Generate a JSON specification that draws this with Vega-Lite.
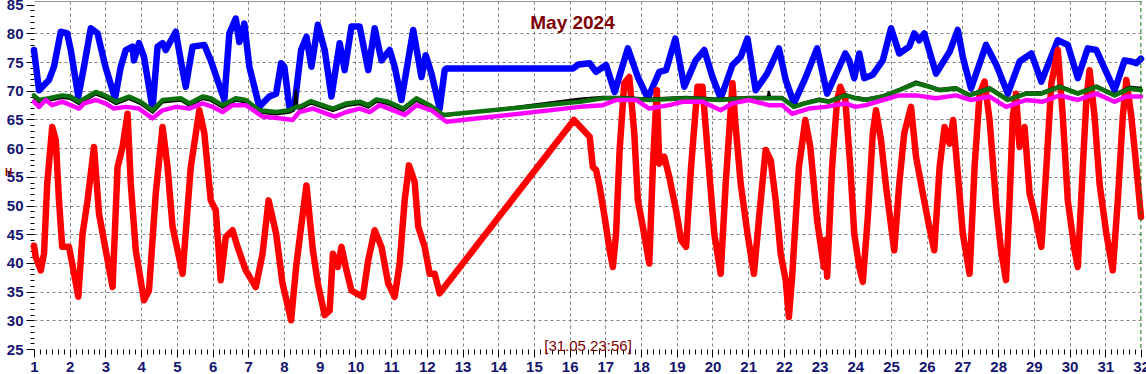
{
  "$schema": "https://vega.github.io/schema/vega-lite/v6.json",
  "width": 1107,
  "height": 348,
  "autosize": {"type": "none"},
  "padding": {"left": 34, "top": 1, "right": 5, "bottom": 25},
  "background": "white",
  "title": {"text": "May 2024", "anchor": "middle", "frame": "group", "orient": "top", "offset": -27, "baseline": "alphabetic", "dx": -15, "dy": 23, "font": "Liberation Sans", "fontSize": 19, "fontWeight": "bold", "color": "#800000"},
  "config": {
    "view": {"stroke": null},
    "axis": {"labelFont": "Liberation Sans", "labelFontWeight": "bold", "labelFontSize": 15, "labelColor": "#141470", "tickColor": "#000000", "domain": false, "gridColor": "#808080", "gridDash": [3, 3], "gridWidth": 1, "titleFont": "Liberation Sans"}
  },
  "datasets": {
    "blue": [
      {"d":1.0,"v":77.1},{"d":1.14,"v":70.1},{"d":1.42,"v":71.9},{"d":1.56,"v":74.2},{"d":1.75,"v":80.3},{"d":1.93,"v":80},{"d":2.03,"v":77.1},{"d":2.24,"v":69},{"d":2.4,"v":74.2},{"d":2.59,"v":80.9},{"d":2.78,"v":80},{"d":3.0,"v":74.2},{"d":3.27,"v":68.7},{"d":3.43,"v":74.2},{"d":3.57,"v":77.1},{"d":3.76,"v":77.7},{"d":3.8,"v":75.3},{"d":3.94,"v":78.3},{"d":4.08,"v":75.9},{"d":4.32,"v":66.9},{"d":4.46,"v":77.7},{"d":4.6,"v":78.3},{"d":4.69,"v":77.1},{"d":4.97,"v":80.3},{"d":5.11,"v":75.3},{"d":5.25,"v":70.7},{"d":5.44,"v":77.7},{"d":5.77,"v":78},{"d":5.95,"v":75.3},{"d":6.33,"v":68.4},{"d":6.47,"v":80},{"d":6.65,"v":82.6},{"d":6.75,"v":78.5},{"d":6.89,"v":81.7},{"d":7.03,"v":74.2},{"d":7.31,"v":67.2},{"d":7.59,"v":69},{"d":7.78,"v":69.5},{"d":7.92,"v":74.8},{"d":8.01,"v":74.2},{"d":8.15,"v":67.2},{"d":8.29,"v":67.2},{"d":8.48,"v":77.1},{"d":8.63,"v":79.4},{"d":8.77,"v":74.2},{"d":8.95,"v":81.5},{"d":9.14,"v":77.1},{"d":9.33,"v":69},{"d":9.56,"v":78.3},{"d":9.7,"v":73.6},{"d":9.89,"v":81.2},{"d":10.12,"v":81.2},{"d":10.36,"v":73.6},{"d":10.54,"v":80.9},{"d":10.73,"v":75.3},{"d":10.96,"v":77.1},{"d":11.1,"v":74.2},{"d":11.29,"v":68.4},{"d":11.62,"v":80.6},{"d":11.85,"v":72.4},{"d":11.97,"v":76.2},{"d":12.13,"v":73},{"d":12.36,"v":66.9},{"d":12.5,"v":73.6},{"d":12.55,"v":73.9},{"d":16.1,"v":73.9},{"d":16.25,"v":74.6},{"d":16.56,"v":74.8},{"d":16.74,"v":73.3},{"d":17.02,"v":74.5},{"d":17.26,"v":69.8},{"d":17.63,"v":77.4},{"d":17.91,"v":72.4},{"d":18.19,"v":68.7},{"d":18.51,"v":73.3},{"d":18.7,"v":73.6},{"d":18.96,"v":79.1},{"d":19.21,"v":70.7},{"d":19.53,"v":75.3},{"d":19.77,"v":77.1},{"d":20.0,"v":72.4},{"d":20.23,"v":68.7},{"d":20.56,"v":74.5},{"d":20.79,"v":75.9},{"d":20.98,"v":79.1},{"d":21.21,"v":70.1},{"d":21.53,"v":73},{"d":21.86,"v":77.4},{"d":22.05,"v":71.9},{"d":22.28,"v":67.8},{"d":22.6,"v":72.2},{"d":22.93,"v":77.4},{"d":23.21,"v":69.5},{"d":23.72,"v":76.5},{"d":23.83,"v":75.3},{"d":23.97,"v":72.2},{"d":24.11,"v":76.5},{"d":24.25,"v":72.2},{"d":24.49,"v":72.8},{"d":24.77,"v":75.3},{"d":25.0,"v":80.9},{"d":25.23,"v":76.5},{"d":25.51,"v":77.7},{"d":25.65,"v":80},{"d":25.79,"v":78.8},{"d":25.93,"v":80},{"d":26.26,"v":73},{"d":26.64,"v":76.8},{"d":26.87,"v":80.6},{"d":27.01,"v":75.9},{"d":27.24,"v":70.4},{"d":27.66,"v":78},{"d":27.95,"v":74.5},{"d":28.27,"v":69.5},{"d":28.6,"v":75.1},{"d":28.93,"v":76.5},{"d":29.21,"v":71.6},{"d":29.67,"v":78.8},{"d":29.95,"v":78},{"d":30.23,"v":72.2},{"d":30.51,"v":77.4},{"d":30.75,"v":77.1},{"d":30.98,"v":73.9},{"d":31.26,"v":70.1},{"d":31.54,"v":75.3},{"d":31.73,"v":75.1},{"d":31.87,"v":74.8},{"d":32,"v":75.6}
    ],
    "red": [
      {"d":1.0,"v":43},{"d":1.05,"v":41},{"d":1.19,"v":38.7},{"d":1.28,"v":41.6},{"d":1.37,"v":53.8},{"d":1.51,"v":63.7},{"d":1.61,"v":61.4},{"d":1.7,"v":50.9},{"d":1.79,"v":42.8},{"d":1.98,"v":42.8},{"d":2.07,"v":39.9},{"d":2.24,"v":34.1},{"d":2.36,"v":45.1},{"d":2.5,"v":50.9},{"d":2.68,"v":60.2},{"d":2.82,"v":48.6},{"d":3.06,"v":40.5},{"d":3.2,"v":35.8},{"d":3.34,"v":56.7},{"d":3.48,"v":60.2},{"d":3.62,"v":66},{"d":3.71,"v":53.8},{"d":3.85,"v":42.2},{"d":4.08,"v":33.5},{"d":4.22,"v":35.2},{"d":4.41,"v":52.1},{"d":4.6,"v":63.7},{"d":4.74,"v":56.7},{"d":4.88,"v":46.3},{"d":5.16,"v":38.1},{"d":5.39,"v":56.7},{"d":5.63,"v":66.6},{"d":5.77,"v":62.6},{"d":5.95,"v":50.9},{"d":6.09,"v":49.2},{"d":6.23,"v":37},{"d":6.37,"v":44.5},{"d":6.56,"v":45.7},{"d":6.7,"v":42.8},{"d":6.93,"v":38.7},{"d":7.21,"v":35.8},{"d":7.4,"v":41.6},{"d":7.57,"v":50.9},{"d":7.78,"v":45.1},{"d":7.96,"v":36.4},{"d":8.2,"v":30},{"d":8.34,"v":39.3},{"d":8.48,"v":46.3},{"d":8.63,"v":53.5},{"d":8.81,"v":42.2},{"d":8.95,"v":36.4},{"d":9.14,"v":30.9},{"d":9.28,"v":31.7},{"d":9.37,"v":41.6},{"d":9.51,"v":39.3},{"d":9.61,"v":42.8},{"d":9.75,"v":38.7},{"d":9.89,"v":35.2},{"d":10.03,"v":34.7},{"d":10.21,"v":34.1},{"d":10.36,"v":40.5},{"d":10.54,"v":45.7},{"d":10.73,"v":42.8},{"d":10.92,"v":36.4},{"d":11.1,"v":34.1},{"d":11.24,"v":39.9},{"d":11.38,"v":50.9},{"d":11.5,"v":57},{"d":11.66,"v":54.1},{"d":11.76,"v":46.3},{"d":11.94,"v":42.8},{"d":12.08,"v":38.1},{"d":12.22,"v":38.1},{"d":12.36,"v":34.7},{"d":16.12,"v":64.9},{"d":16.56,"v":62},{"d":16.65,"v":56.7},{"d":16.74,"v":56.2},{"d":16.84,"v":53.3},{"d":16.98,"v":48},{"d":17.12,"v":42.2},{"d":17.21,"v":39.3},{"d":17.3,"v":45.1},{"d":17.4,"v":59.7},{"d":17.53,"v":71.3},{"d":17.67,"v":72.4},{"d":17.81,"v":62.6},{"d":17.91,"v":50.9},{"d":18.05,"v":46.3},{"d":18.23,"v":39.9},{"d":18.33,"v":56.7},{"d":18.44,"v":70.1},{"d":18.51,"v":57.3},{"d":18.65,"v":58.5},{"d":18.79,"v":55},{"d":18.98,"v":49.2},{"d":19.12,"v":44},{"d":19.26,"v":42.8},{"d":19.4,"v":56.7},{"d":19.58,"v":70.7},{"d":19.72,"v":70.7},{"d":19.86,"v":59.7},{"d":20.05,"v":45.1},{"d":20.23,"v":38.1},{"d":20.37,"v":53.8},{"d":20.56,"v":71.3},{"d":20.65,"v":63.7},{"d":20.79,"v":53.8},{"d":20.98,"v":45.1},{"d":21.16,"v":38.1},{"d":21.35,"v":50.9},{"d":21.49,"v":59.7},{"d":21.63,"v":57.9},{"d":21.77,"v":50.9},{"d":21.91,"v":41.6},{"d":22.05,"v":37},{"d":22.14,"v":30.6},{"d":22.23,"v":37.6},{"d":22.42,"v":56.7},{"d":22.6,"v":64.9},{"d":22.74,"v":60.2},{"d":22.93,"v":47.4},{"d":23.12,"v":39.3},{"d":23.16,"v":44},{"d":23.21,"v":37.6},{"d":23.35,"v":56.7},{"d":23.49,"v":68.4},{"d":23.58,"v":70.7},{"d":23.72,"v":68.4},{"d":23.86,"v":56.7},{"d":23.97,"v":45.1},{"d":24.11,"v":39.3},{"d":24.21,"v":36.7},{"d":24.35,"v":48},{"d":24.49,"v":62.6},{"d":24.58,"v":66.6},{"d":24.72,"v":61.4},{"d":24.86,"v":53.3},{"d":25.09,"v":42.2},{"d":25.23,"v":53.8},{"d":25.37,"v":62.6},{"d":25.56,"v":67.2},{"d":25.7,"v":58.5},{"d":25.89,"v":52.1},{"d":26.07,"v":46.3},{"d":26.21,"v":42.2},{"d":26.36,"v":56.7},{"d":26.5,"v":63.7},{"d":26.64,"v":60.8},{"d":26.74,"v":64.9},{"d":26.87,"v":55.6},{"d":27.01,"v":45.1},{"d":27.2,"v":38.1},{"d":27.34,"v":56.7},{"d":27.48,"v":69.5},{"d":27.62,"v":71.6},{"d":27.76,"v":64.9},{"d":27.95,"v":49.8},{"d":28.08,"v":42.2},{"d":28.22,"v":37},{"d":28.32,"v":50.9},{"d":28.41,"v":65.5},{"d":28.5,"v":69.5},{"d":28.6,"v":60.2},{"d":28.74,"v":63.7},{"d":28.88,"v":52.1},{"d":29.02,"v":48.6},{"d":29.21,"v":42.8},{"d":29.35,"v":56.7},{"d":29.49,"v":71.3},{"d":29.67,"v":77.1},{"d":29.81,"v":65.5},{"d":29.95,"v":50.9},{"d":30.14,"v":42.2},{"d":30.23,"v":39.3},{"d":30.37,"v":56.7},{"d":30.47,"v":68.4},{"d":30.56,"v":73.6},{"d":30.7,"v":65.5},{"d":30.84,"v":53.8},{"d":31.03,"v":45.1},{"d":31.21,"v":38.7},{"d":31.35,"v":50.9},{"d":31.49,"v":65.5},{"d":31.59,"v":71.9},{"d":31.73,"v":65.5},{"d":31.87,"v":56.7},{"d":32,"v":48}
    ],
    "green": [
      {"d":1.0,"v":69.2},{"d":1.14,"v":68.4},{"d":1.42,"v":68.7},{"d":1.79,"v":69.2},{"d":2.03,"v":69},{"d":2.26,"v":68.1},{"d":2.73,"v":69.8},{"d":3.06,"v":69},{"d":3.29,"v":68.1},{"d":3.66,"v":69},{"d":3.99,"v":68.1},{"d":4.32,"v":66.6},{"d":4.6,"v":68.4},{"d":5.11,"v":68.7},{"d":5.35,"v":67.8},{"d":5.72,"v":69},{"d":5.95,"v":68.7},{"d":6.28,"v":67.5},{"d":6.65,"v":68.7},{"d":6.93,"v":68.4},{"d":7.31,"v":66.6},{"d":7.78,"v":66.3},{"d":8.15,"v":66.6},{"d":8.34,"v":67.2},{"d":8.44,"v":67.2},{"d":8.75,"v":68.2},{"d":9.37,"v":66.9},{"d":9.75,"v":67.8},{"d":10.12,"v":68.1},{"d":10.36,"v":67.5},{"d":10.59,"v":68.5},{"d":10.92,"v":68.1},{"d":11.34,"v":66.9},{"d":11.71,"v":68.7},{"d":12.08,"v":67.5},{"d":12.46,"v":65.8},{"d":16.29,"v":68.1},{"d":16.93,"v":68.7},{"d":17.4,"v":68.7},{"d":18.23,"v":68.4},{"d":19.26,"v":68.7},{"d":20.19,"v":68.4},{"d":21.02,"v":68.7},{"d":21.95,"v":68.7},{"d":22.28,"v":67.2},{"d":22.6,"v":67.8},{"d":22.98,"v":68.4},{"d":23.26,"v":68.1},{"d":23.72,"v":69.2},{"d":24.0,"v":68.7},{"d":24.3,"v":68.4},{"d":24.77,"v":69},{"d":25.23,"v":70.1},{"d":25.7,"v":71.3},{"d":26.07,"v":70.7},{"d":26.36,"v":70.1},{"d":26.82,"v":70.4},{"d":27.2,"v":69.2},{"d":27.76,"v":70.4},{"d":28.27,"v":68.4},{"d":28.79,"v":69.5},{"d":29.21,"v":69.5},{"d":29.72,"v":70.7},{"d":30.23,"v":69.5},{"d":30.75,"v":70.7},{"d":31.26,"v":69.2},{"d":31.68,"v":70.4},{"d":32,"v":70.1}
    ],
    "black": [
      {"d":1.0,"v":68.8},{"d":1.14,"v":68.0},{"d":1.42,"v":68.3},{"d":1.79,"v":68.8},{"d":2.03,"v":68.6},{"d":2.26,"v":67.7},{"d":2.73,"v":69.4},{"d":3.06,"v":68.6},{"d":3.29,"v":67.7},{"d":3.66,"v":68.6},{"d":3.99,"v":67.7},{"d":4.32,"v":66.2},{"d":4.6,"v":68.0},{"d":5.11,"v":68.3},{"d":5.35,"v":67.4},{"d":5.72,"v":68.6},{"d":5.95,"v":68.3},{"d":6.28,"v":67.1},{"d":6.65,"v":68.3},{"d":6.93,"v":68.0},{"d":7.31,"v":66.2},{"d":7.78,"v":65.9},{"d":8.15,"v":66.2},{"d":8.28,"v":66.6},{"d":8.33,"v":70.0},{"d":8.38,"v":67.0},{"d":8.44,"v":66.8},{"d":8.75,"v":67.8},{"d":9.37,"v":66.5},{"d":9.75,"v":67.4},{"d":10.12,"v":67.7},{"d":10.36,"v":67.1},{"d":10.59,"v":68.1},{"d":10.92,"v":67.7},{"d":11.34,"v":66.5},{"d":11.71,"v":68.3},{"d":12.08,"v":67.1},{"d":12.46,"v":65.6},{"d":16.29,"v":68.6},{"d":16.93,"v":68.9},{"d":17.4,"v":68.9},{"d":18.23,"v":68.6},{"d":19.26,"v":68.9},{"d":20.19,"v":68.6},{"d":21.02,"v":68.9},{"d":21.55,"v":68.9},{"d":21.58,"v":69.8},{"d":21.61,"v":68.9},{"d":21.95,"v":68.9},{"d":22.28,"v":67.4},{"d":22.6,"v":68.0},{"d":22.98,"v":68.6},{"d":23.26,"v":68.3},{"d":23.72,"v":69.4},{"d":24.0,"v":68.9},{"d":24.3,"v":68.6},{"d":24.77,"v":69.2},{"d":25.23,"v":70.3},{"d":25.7,"v":71.6},{"d":26.07,"v":70.9},{"d":26.36,"v":70.3},{"d":26.82,"v":70.6},{"d":27.2,"v":69.4},{"d":27.76,"v":70.6},{"d":28.27,"v":68.6},{"d":28.79,"v":69.7},{"d":29.21,"v":69.7},{"d":29.72,"v":70.9},{"d":30.23,"v":69.7},{"d":30.75,"v":70.9},{"d":31.26,"v":69.4},{"d":31.68,"v":70.7},{"d":32,"v":70.5}
    ],
    "magenta": [
      {"d":1.0,"v":68.1},{"d":1.14,"v":67.2},{"d":1.33,"v":68.4},{"d":1.51,"v":67.5},{"d":1.79,"v":68.1},{"d":2.26,"v":66.9},{"d":2.4,"v":67.8},{"d":2.73,"v":68.4},{"d":3.0,"v":67.8},{"d":3.24,"v":66.9},{"d":3.57,"v":67.2},{"d":3.94,"v":66.9},{"d":4.32,"v":65.2},{"d":4.6,"v":66.6},{"d":4.97,"v":67.2},{"d":5.35,"v":66.9},{"d":5.72,"v":67.8},{"d":6.0,"v":67.2},{"d":6.28,"v":66.3},{"d":6.56,"v":67.5},{"d":6.93,"v":67.5},{"d":7.4,"v":65.5},{"d":7.87,"v":65.2},{"d":8.24,"v":64.9},{"d":8.43,"v":66.3},{"d":8.81,"v":66.9},{"d":9.42,"v":65.5},{"d":9.75,"v":66.3},{"d":10.12,"v":66.9},{"d":10.4,"v":66.3},{"d":10.68,"v":67.5},{"d":11.06,"v":66.6},{"d":11.38,"v":65.8},{"d":11.71,"v":67.5},{"d":12.13,"v":66.6},{"d":12.55,"v":64.6},{"d":16.29,"v":67.2},{"d":16.93,"v":67.5},{"d":17.3,"v":68.4},{"d":17.86,"v":68.4},{"d":18.23,"v":66.9},{"d":18.79,"v":67.5},{"d":19.16,"v":68.1},{"d":19.72,"v":68.1},{"d":20.23,"v":66.6},{"d":20.56,"v":67.8},{"d":21.02,"v":68.4},{"d":21.58,"v":67.5},{"d":21.95,"v":67.5},{"d":22.23,"v":66},{"d":22.7,"v":66.9},{"d":23.16,"v":67.2},{"d":23.72,"v":67.8},{"d":24.0,"v":67.2},{"d":24.3,"v":67.5},{"d":24.77,"v":68.4},{"d":25.23,"v":69.2},{"d":25.7,"v":69.2},{"d":26.26,"v":68.7},{"d":26.82,"v":69.2},{"d":27.24,"v":68.4},{"d":27.76,"v":69},{"d":28.22,"v":67.2},{"d":28.79,"v":68.4},{"d":29.25,"v":68.1},{"d":29.72,"v":69.2},{"d":30.23,"v":68.4},{"d":30.75,"v":69.5},{"d":31.26,"v":68.1},{"d":31.59,"v":69},{"d":32,"v":69}
    ],
    "now": [{"d": 31.997}]
  },
  "layer": [
    {
      "encoding": {
        "x": {
          "field": "d", "type": "quantitative",
          "scale": {"domain": [1, 32], "nice": false, "zero": false},
          "axis": {
            "values": [1,1.1667,1.3333,1.5,1.6667,1.8333,2,2.1667,2.3333,2.5,2.6667,2.8333,3,3.1667,3.3333,3.5,3.6667,3.8333,4,4.1667,4.3333,4.5,4.6667,4.8333,5,5.1667,5.3333,5.5,5.6667,5.8333,6,6.1667,6.3333,6.5,6.6667,6.8333,7,7.1667,7.3333,7.5,7.6667,7.8333,8,8.1667,8.3333,8.5,8.6667,8.8333,9,9.1667,9.3333,9.5,9.6667,9.8333,10,10.1667,10.3333,10.5,10.6667,10.8333,11,11.1667,11.3333,11.5,11.6667,11.8333,12,12.1667,12.3333,12.5,12.6667,12.8333,13,13.1667,13.3333,13.5,13.6667,13.8333,14,14.1667,14.3333,14.5,14.6667,14.8333,15,15.1667,15.3333,15.5,15.6667,15.8333,16,16.1667,16.3333,16.5,16.6667,16.8333,17,17.1667,17.3333,17.5,17.6667,17.8333,18,18.1667,18.3333,18.5,18.6667,18.8333,19,19.1667,19.3333,19.5,19.6667,19.8333,20,20.1667,20.3333,20.5,20.6667,20.8333,21,21.1667,21.3333,21.5,21.6667,21.8333,22,22.1667,22.3333,22.5,22.6667,22.8333,23,23.1667,23.3333,23.5,23.6667,23.8333,24,24.1667,24.3333,24.5,24.6667,24.8333,25,25.1667,25.3333,25.5,25.6667,25.8333,26,26.1667,26.3333,26.5,26.6667,26.8333,27,27.1667,27.3333,27.5,27.6667,27.8333,28,28.1667,28.3333,28.5,28.6667,28.8333,29,29.1667,29.3333,29.5,29.6667,29.8333,30,30.1667,30.3333,30.5,30.6667,30.8333,31,31.1667,31.3333,31.5,31.6667,31.8333,32],
            "labelExpr": "abs(datum.value - round(datum.value)) < 0.01 ? format(datum.value, 'd') : ''",
            "labelOverlap": false,
            "labelFlush": false,
            "labelPadding": 2.5,
            "tickSize": {"condition": {"test": "abs(datum.value - round(datum.value)) < 0.01", "value": 8}, "value": 5},
            "grid": true,
            "gridOpacity": {"condition": {"test": "abs(datum.value - round(datum.value)) < 0.01 && datum.value > 1.5 && datum.value < 31.5", "value": 1}, "value": 0},
            "title": "[31.05 23:56]",
            "titleColor": "#800000",
            "titleFontSize": 15,
            "titleFontWeight": "normal",
            "titleX": 553.5,
            "titleY": 1,
            "titleAlign": "center",
            "titleBaseline": "alphabetic",
            "titleAnchor": null
          }
        },
        "y": {
          "field": "v", "type": "quantitative",
          "scale": {"domain": [25, 85.65], "nice": false, "zero": false},
          "axis": {
            "values": [25,26,27,28,29,30,31,32,33,34,35,36,37,38,39,40,41,42,43,44,45,46,47,48,49,50,51,52,53,54,55,56,57,58,59,60,61,62,63,64,65,66,67,68,69,70,71,72,73,74,75,76,77,78,79,80,81,82,83,84,85],
            "labelExpr": "datum.value % 5 === 0 ? format(datum.value, 'd') : ''",
            "labelOverlap": false,
            "labelFlush": false,
            "labelPadding": 3,
            "tickSize": {"condition": {"test": "datum.value % 5 === 0", "value": 8}, "value": 4},
            "grid": true,
            "gridOpacity": {"condition": {"test": "datum.value % 5 === 0 && datum.value >= 30 && datum.value <= 80", "value": 1}, "value": 0},
            "title": "H",
            "titleColor": "#800000",
            "titleFontSize": 10,
            "titleFontWeight": "bold",
            "titleAngle": 0,
            "titleX": -26,
            "titleY": 174,
            "titleAlign": "center",
            "titleBaseline": "alphabetic",
            "titleAnchor": null
          }
        }
      },
      "layer": [
        {"data": {"name": "blue"}, "mark": {"type": "line", "color": "#0000FF", "strokeWidth": 6.5, "strokeJoin": "round", "strokeCap": "round"}},
        {"data": {"name": "red"}, "mark": {"type": "line", "color": "#FF0000", "strokeWidth": 6.5, "strokeJoin": "round", "strokeCap": "round"}},
        {"data": {"name": "black"}, "mark": {"type": "line", "color": "#000000", "strokeWidth": 2.5, "strokeJoin": "round", "strokeCap": "round"}},
        {"data": {"name": "green"}, "mark": {"type": "line", "color": "#0c700c", "strokeWidth": 4.5, "strokeJoin": "round", "strokeCap": "round"}},
        {"data": {"name": "magenta"}, "mark": {"type": "line", "color": "#FF00FF", "strokeWidth": 4.5, "strokeJoin": "round", "strokeCap": "round"}}
      ]
    },
    {
      "data": {"name": "now"},
      "mark": {"type": "rule", "color": "#0a7a0a", "strokeDash": [4, 3], "strokeWidth": 1},
      "encoding": {
        "x": {
          "field": "d", "type": "quantitative",
          "scale": {"domain": [1, 32], "nice": false, "zero": false},
          "axis": {"orient": "top", "domain": true, "domainColor": "#9a9a9a", "domainWidth": 1, "ticks": false, "labels": false, "grid": false, "title": null}
        }
      }
    }
  ],
  "resolve": {"axis": {"x": "independent"}}
}
